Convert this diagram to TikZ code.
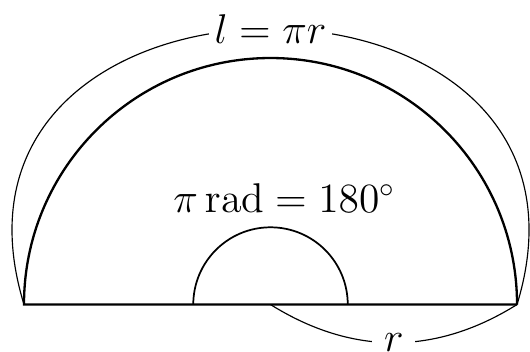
\documentclass[tikz,border=0pt]{standalone}
\usepackage{amsmath}
\usetikzlibrary{positioning}
\tikzset{
  dimline/.style={thin},
  dimlabel/.style={fill=white, inner ysep=2pt, font=\Large},
}
\begin{document}
\begin{tikzpicture}
  \useasboundingbox (-3.292,-0.566) rectangle (3.158,3.706);
  \coordinate (O) at (0,0);
  \coordinate (A) at (-3,0);
  \coordinate (B) at (3,0);
  % half disc
  \draw[thick] (B) arc[start angle=0, end angle=180, radius=3] -- (B);
  % angle
  \draw[semithick] (0.94,0) arc[start angle=0, end angle=180, radius=0.94];
  \node[font=\Large] (ang) at (0.17,1.29) {$\pi\,\mathrm{rad}=180^\circ$};
  % arc length
  \draw[dimline] (A) to[out=107, in=73, looseness=2]
    node[dimlabel, inner xsep=2pt] (len) {$l=\pi r$} (B);
  % radius
  \draw[dimline] (O) to[bend right=32]
    node[dimlabel, inner xsep=4pt] (rad) {$r$} (B);
\end{tikzpicture}
\end{document}
